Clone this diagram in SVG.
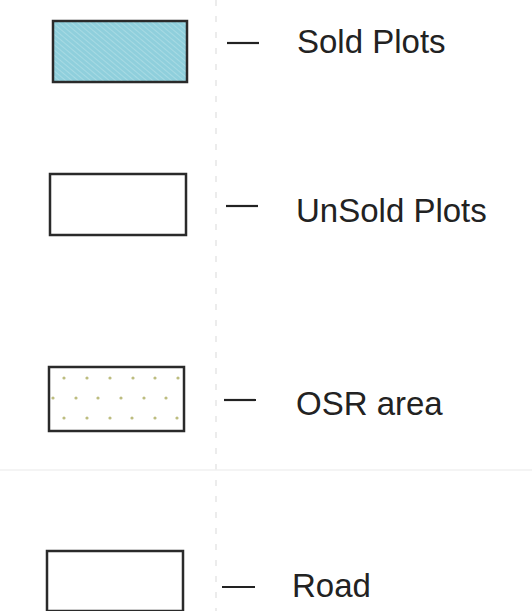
<svg xmlns="http://www.w3.org/2000/svg" width="532" height="611" viewBox="0 0 532 611">
<defs>
<pattern id="hatch" width="4" height="4" patternUnits="userSpaceOnUse" patternTransform="rotate(-50)">
<rect width="4" height="4" fill="#8fcfdc"/>
<line x1="0" y1="0" x2="0" y2="4" stroke="#b5e0e8" stroke-width="1.3"/>
</pattern>
</defs>
<style>
.box{stroke:#2a2a2a;stroke-width:2.5}
.lbl{font-family:"Liberation Sans",Arial,sans-serif;font-size:33px;fill:#222}
.dash{stroke:#222;stroke-width:2.2}
.dot{fill:#bdbd80}
</style>
<rect width="532" height="611" fill="#ffffff"/>
<line x1="216" y1="0" x2="216" y2="611" stroke="#e6e6e6" stroke-width="1.5" stroke-dasharray="6 10"/>
<line x1="0" y1="470" x2="532" y2="470" stroke="#f0f0f0" stroke-width="1.5"/>
<g id="sold">
<rect class="box" x="53" y="21" width="134" height="61" fill="url(#hatch)"/>
<line class="dash" x1="227" y1="43" x2="259" y2="43"/>
<text class="lbl" x="297" y="53">Sold Plots</text>
</g>
<g id="unsold">
<rect class="box" x="50" y="174" width="136" height="61" fill="#ffffff"/>
<line class="dash" x1="226" y1="206" x2="258" y2="206"/>
<text class="lbl" x="296" y="222">UnSold Plots</text>
</g>
<g id="osr">
<rect class="box" x="49" y="367" width="135" height="64" fill="#ffffff"/>
<g>
<circle class="dot" cx="64" cy="378" r="1.6"/><circle class="dot" cx="87" cy="378" r="1.6"/><circle class="dot" cx="110" cy="378" r="1.6"/><circle class="dot" cx="133" cy="378" r="1.6"/><circle class="dot" cx="155" cy="378" r="1.6"/><circle class="dot" cx="178" cy="378" r="1.6"/>
<circle class="dot" cx="53" cy="398" r="1.6"/><circle class="dot" cx="76" cy="398" r="1.6"/><circle class="dot" cx="98" cy="398" r="1.6"/><circle class="dot" cx="121" cy="398" r="1.6"/><circle class="dot" cx="144" cy="398" r="1.6"/><circle class="dot" cx="166" cy="398" r="1.6"/>
<circle class="dot" cx="64" cy="418" r="1.6"/><circle class="dot" cx="87" cy="418" r="1.6"/><circle class="dot" cx="110" cy="418" r="1.6"/><circle class="dot" cx="132" cy="418" r="1.6"/><circle class="dot" cx="155" cy="418" r="1.6"/><circle class="dot" cx="177" cy="418" r="1.6"/>
</g>
<line class="dash" x1="224" y1="400" x2="256" y2="400"/>
<text class="lbl" x="296" y="415">OSR area</text>
</g>
<g id="road">
<rect class="box" x="47" y="551" width="136" height="60" fill="#ffffff"/>
<line class="dash" x1="222" y1="587" x2="255" y2="587"/>
<text class="lbl" x="292" y="597">Road</text>
</g>
<g id="connectors"></g>
</svg>
